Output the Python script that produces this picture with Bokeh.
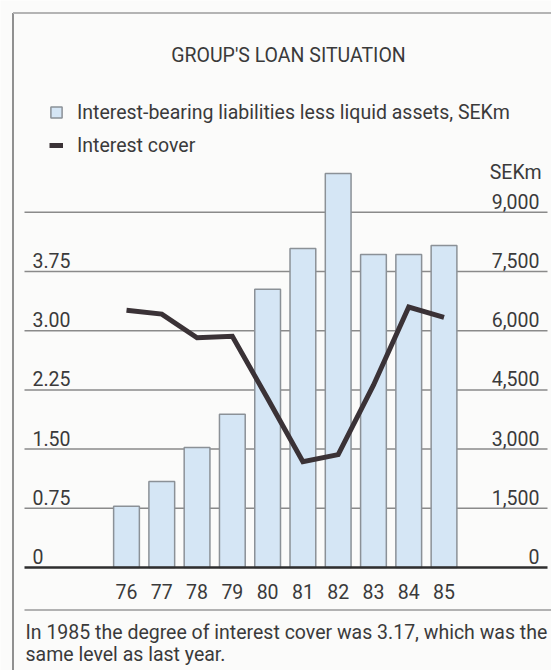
from bokeh.plotting import figure
from bokeh.models import Range1d
from bokeh.core.properties import value
from bokeh.embed import file_html
from bokeh.resources import INLINE

# ---------------- data ----------------
years = [76, 77, 78, 79, 80, 81, 82, 83, 84, 85]
year_labels = ["76", "77", "78", "79", "80", "81", "82", "83", "84", "85"]
net_debt_sekm = [1550, 2180, 3040, 3880, 7050, 8080, 9980, 7930, 7930, 8160]
interest_cover = [3.26, 3.21, 2.91, 2.93, 2.14, 1.34, 1.43, 2.31, 3.30, 3.17]
cover_ticks = [0, 0.75, 1.50, 2.25, 3.00, 3.75]
cover_tick_labels = ["0", "0.75", "1.50", "2.25", "3.00", "3.75"]
sek_ticks = [0, 1500, 3000, 4500, 6000, 7500, 9000]
sek_tick_labels = ["0", "1,500", "3,000", "4,500", "6,000", "7,500", "9,000"]
title_text = "GROUP'S LOAN SITUATION"
bar_label = "Interest-bearing liabilities less liquid assets, SEKm"
line_label = "Interest cover"
unit_label = "SEKm"
caption_lines = ["In 1985 the degree of interest cover was 3.17, which was the",
                 "same level as last year."]

# ---------------- layout / style ----------------
W, H = 551, 670
PITCH = 35.28        # px per year
X_FIRST = 126.0      # px of first year centre
BASE = 567.0         # px of zero line
STEP = 59.2          # px per 1500 SEKm
K = 1500.0 / STEP    # SEKm per px
COVER_PER_SEK = 0.75 / 1500.0
FIX = 7.5            # renderer places the alphabetic baseline this much lower

x_start = years[0] - X_FIRST / PITCH
x_end = x_start + W / PITCH
y_end = BASE * K
y_start = -(H - BASE) * K


def XP(px):
    return x_start + px / PITCH


def YP(py):
    return y_end - py * K


def YT(py):
    return YP(py - FIX)


FONT = "Roboto"
FS = "19.5px"
BG = "#fbfbfa"
TEXT = "#3a3a3a"
GRID = "#8a8a8a"
BAR_FILL = "#d5e6f5"
BAR_LINE = "#8b9197"
LINE = "#3a3236"

p = figure(width=W, height=H,
           x_range=Range1d(x_start, x_end), y_range=Range1d(y_start, y_end),
           x_axis_type=None, y_axis_type=None, title=None,
           toolbar_location=None, output_backend="svg", min_border=0,
           background_fill_color=BG, border_fill_color=BG, outline_line_color=None)
p.extra_y_ranges = {"cover": Range1d(y_start * COVER_PER_SEK, y_end * COVER_PER_SEK)}

# frame around the chart
p.segment(x0=[XP(12.5)], y0=[YP(12.5)], x1=[XP(12.5)], y1=[YP(H + 5)],
          line_color="#909090", line_width=2)
p.segment(x0=[XP(12.5)], y0=[YP(12.5)], x1=[XP(W + 5)], y1=[YP(12.5)],
          line_color="#b4b4b4", line_width=2)

# horizontal grid lines
grid_vals = sek_ticks[1:]
p.segment(x0=[XP(24)] * len(grid_vals), y0=grid_vals,
          x1=[XP(547)] * len(grid_vals), y1=grid_vals,
          line_color=GRID, line_width=1.5)

# bars
p.vbar(x=years, top=net_debt_sekm, bottom=0, width=0.73,
       fill_color=BAR_FILL, line_color=BAR_LINE, line_width=1.5,
       legend_label=bar_label)

# zero line
p.segment(x0=[XP(24)], y0=[sek_ticks[0]], x1=[XP(547)], y1=[sek_ticks[0]],
          line_color="#2e2e2e", line_width=2.5)

# interest cover line
p.line(years, interest_cover, y_range_name="cover", line_width=5,
       line_color=LINE, line_join="miter", legend_label=line_label)

# left tick labels (interest cover)
p.text(x=[XP(32)] * len(cover_ticks), y=cover_ticks, text=cover_tick_labels,
       y_range_name="cover", text_align="left", text_baseline="alphabetic",
       y_offset=-(3.5 + FIX), text_font=value(FONT), text_font_size=FS, text_color=TEXT)

# right tick labels (SEKm)
p.text(x=[XP(539)] * len(sek_ticks), y=sek_ticks, text=sek_tick_labels,
       text_align="right", text_baseline="alphabetic",
       y_offset=-(3.5 + FIX), text_font=value(FONT), text_font_size=FS, text_color=TEXT)
p.text(x=[XP(541)], y=[YT(179.5)], text=[unit_label],
       text_align="right", text_baseline="alphabetic",
       text_font=value(FONT), text_font_size=FS, text_color=TEXT)

# x labels
p.text(x=years, y=[YT(598)] * len(years), text=year_labels,
       text_align="center", text_baseline="alphabetic",
       text_font=value(FONT), text_font_size=FS, text_color=TEXT)

# rule under x labels
p.segment(x0=[XP(24)], y0=[YP(609.5)], x1=[XP(W + 5)], y1=[YP(609.5)],
          line_color="#9a9a9a", line_width=1.5)

# title
p.text(x=[XP(288)], y=[YT(62)], text=[title_text],
       text_align="center", text_baseline="alphabetic",
       text_font=value(FONT), text_font_size=FS, text_color=TEXT)

# caption
p.text(x=[XP(25)] * 2, y=[YT(639), YT(661.5)], text=caption_lines,
       text_align="left", text_baseline="alphabetic",
       text_font=value(FONT), text_font_size=FS, text_color=TEXT)

# legend
lg = p.legend[0]
lg.location = (49, 513)
lg.orientation = "vertical"
lg.glyph_width = 14
lg.glyph_height = 14
lg.label_standoff = 14
lg.spacing = 9
lg.padding = 0
lg.margin = 0
lg.label_height = 24
lg.label_text_font = FONT
lg.label_text_font_size = FS
lg.label_text_color = TEXT
lg.border_line_color = None
lg.background_fill_alpha = 0

open("out.html", "w").write(file_html(p, INLINE))
